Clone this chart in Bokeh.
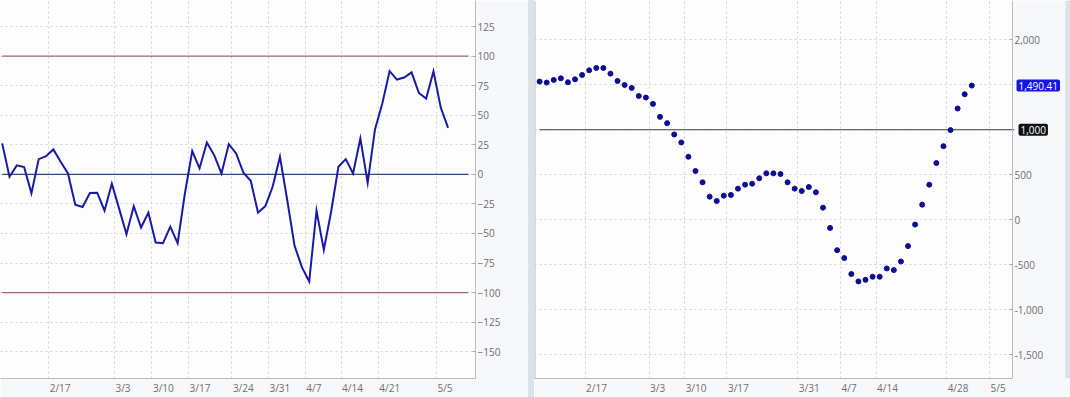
from bokeh.plotting import figure
from bokeh.models import FixedTicker, Range1d, Label, NumeralTickFormatter, Spacer, BoxAnnotation
from bokeh.layouts import row
from bokeh.embed import file_html
from bokeh.resources import INLINE

# ---------------- data ----------------
cci_values = [26.2, -2.0, 7.6, 6.2, -16.0, 12.9, 15.4, 21.1, 10.6, 0.8,
              -25.6, -27.6, -15.8, -15.5, -30.7, -7.9, -29.0, -50.6, -27.0, -45.0,
              -32.4, -57.7, -58.2, -44.2, -58.2, -16.0, 19.7, 5.1, 27.0, 16.3,
              0.8, 25.6, 17.7, 1.4, -5.4, -32.4, -26.8, -10.5, 14.9, -21.9,
              -60.5, -78.5, -90.6, -30.7, -63.9, -31.6, 6.4, 12.9, 0.8, 30.4,
              -7.1, 38.0, 60.0, 87.4, 80.2, 81.9, 86.3, 68.9, 64.1, 87.2,
              56.5, 39.3]
cci_levels = [100, 0, -100]
cci_level_colors = ["#a06868", "#2b4a86", "#a06868"]

osc_values = [1535, 1524, 1553, 1571, 1527, 1560, 1608, 1660, 1686, 1686,
              1623, 1542, 1497, 1464, 1375, 1358, 1287, 1143, 1073, 948,
              859, 700, 542, 416, 257, 209, 268, 276, 346, 390,
              401, 461, 516, 516, 508, 416, 346, 320, 364, 306,
              135, -90, -337, -425, -602, -684, -666, -632, -632, -540,
              -558, -463, -292, -53, 168, 390, 630, 818, 996, 1236,
              1394, 1490.41]
osc_level = 1000

left_tick_labels = ["2/17", "3/3", "3/10", "3/17", "3/24", "3/31", "4/7", "4/14", "4/21", "5/5"]
left_tick_pos = [6.36, 15.36, 20.49, 25.49, 31.42, 36.42, 41.46, 46.36, 51.45, 59.41]
right_tick_labels = ["2/17", "3/3", "3/10", "3/17", "3/31", "4/7", "4/14", "4/28", "5/5"]
right_tick_pos = [6.41, 15.45, 20.47, 26.44, 36.45, 42.48, 47.49, 57.45, 63.5]

left_y_ticks = [-150, -125, -100, -75, -50, -25, 0, 25, 50, 75, 100, 125, 150]
right_y_grid = [-1500, -1000, -500, 0, 500, 1000, 1500, 2000]
right_y_labels = [-1500, -1000, -500, 0, 500, 2000]

# ---------------- style / layout ----------------
FONT = "Open Sans"
AX = "#bcbcbc"
LBL = "#6f6f6f"
GRID = "#d2d2d2"
BORDER_BG = "#f7f8f9"
STRIP = "#dae3e8"
H = 397
BOTTOM = 18
FS = 10  # font px

n = len(cci_values)
xs = list(range(n))


def text_w(s):
    # approximate Open Sans advance widths (em) at FS px
    widths = {"/": 0.371, ",": 0.25, ".": 0.27}
    return sum(widths.get(ch, 0.572) for ch in s) * FS


def base_fig(width, xr, yr, border_right):
    p = figure(width=width, height=H, x_range=Range1d(*xr), y_range=Range1d(*yr),
               y_axis_location="right", output_backend="svg", toolbar_location=None,
               min_border_left=0, min_border_top=0, min_border_bottom=BOTTOM,
               min_border_right=border_right,
               background_fill_color="#fdfdfd", border_fill_color=BORDER_BG,
               outline_line_color=None)
    for ax in (p.xaxis, p.yaxis):
        ax.axis_line_color = AX
        ax.minor_tick_line_color = None
        ax.major_label_text_font = FONT
        ax.major_label_text_font_size = f"{FS}px"
        ax.major_label_text_color = LBL
    p.xaxis.major_tick_line_color = None
    p.xaxis.major_tick_in = 0
    p.xaxis.major_tick_out = 0
    p.xaxis.major_label_standoff = 2
    p.yaxis.major_tick_in = 3
    p.yaxis.major_tick_out = 0
    p.yaxis.major_tick_line_color = "#a8a8a8"
    p.yaxis.major_label_standoff = 2
    p.grid.grid_line_color = GRID
    p.grid.grid_line_dash = "2 3"
    return p


def date_axis(p, positions, labels, ppi):
    centers = [round(pos + (text_w(lab) / 2 + 1) / ppi, 3) for pos, lab in zip(positions, labels)]
    p.xaxis.ticker = FixedTicker(ticks=centers)
    p.xaxis.major_label_overrides = {c: lab for c, lab in zip(centers, labels)}
    p.xgrid.ticker = FixedTicker(ticks=positions)


# ---------------- left panel ----------------
L_W, L_R = 528, 53
L_X0, L_X1 = -0.23, 64.75
p1 = base_fig(L_W, (L_X0, L_X1), (-172.7, 147.1), L_R)
p1.yaxis.ticker = FixedTicker(ticks=left_y_ticks)
p1.ygrid.ticker = FixedTicker(ticks=left_y_ticks)
date_axis(p1, left_tick_pos, left_tick_labels, (L_W - L_R) / (L_X1 - L_X0))
left_level_end = n + 1.8
for lvl, col in zip(cci_levels, cci_level_colors):
    p1.segment(x0=[0], y0=[lvl], x1=[left_level_end], y1=[lvl],
               line_color=col, line_width=1.3)
p1.line(xs, cci_values, line_color="#1a1aa8", line_width=2, line_join="miter")

# ---------------- right panel ----------------
# frame spans the whole panel; the value axis is pinned inside it so that
# the price badges can sit over the label column
R_W = 536
R_PPI = 7.085
R_X0 = -0.72
R_AXIS_PX = 478
R_AXIS_X = R_X0 + R_AXIS_PX / R_PPI
R_X1 = R_X0 + R_W / R_PPI
p2 = base_fig(R_W, (R_X0, R_X1), (-1762, 2435), 0)
p2.yaxis.fixed_location = R_AXIS_X
p2.yaxis.ticker = FixedTicker(ticks=right_y_labels)
p2.yaxis.formatter = NumeralTickFormatter(format="0,0")
p2.ygrid.ticker = FixedTicker(ticks=right_y_grid)
p2.xaxis.bounds = (R_X0, R_AXIS_X)
date_axis(p2, right_tick_pos, right_tick_labels, R_PPI)

# label column background (covers the grid there) and the outer strip
p2.add_layout(BoxAnnotation(left=R_AXIS_X, fill_color=BORDER_BG, fill_alpha=1,
                            line_color=None, level="underlay"))
p2.add_layout(BoxAnnotation(left=R_X1 - 5 / R_PPI, fill_color=STRIP, fill_alpha=1,
                            line_color=None, level="underlay"))

right_level_end = n + 5.0
p2.segment(x0=[0], y0=[osc_level], x1=[right_level_end], y1=[osc_level],
           line_color="#3c3c3c", line_width=1.2)
p2.segment(x0=[R_X0], y0=[p2.y_range.start], x1=[R_X0],
           y1=[p2.y_range.end], line_color=AX, line_width=2)
p2.scatter(xs, osc_values, size=5, color="#0d0d93")

p2.add_layout(Label(x=R_AXIS_X, x_offset=4, y=osc_values[-1],
                    text=f"{osc_values[-1]:,.2f}", text_align="left", text_baseline="middle",
                    text_font=FONT, text_font_size=f"{FS}px", text_color="white",
                    background_fill_color="#1616e0", padding=2, border_radius=2))
p2.add_layout(Label(x=R_AXIS_X, x_offset=6, y=osc_level,
                    text=f"{osc_level:,}", text_align="left", text_baseline="middle",
                    text_font=FONT, text_font_size=f"{FS}px", text_color="white",
                    background_fill_color="#111111", padding=2, border_radius=2))

divider = Spacer(width=6, height=H, margin=0, styles={"background-color": STRIP})

layout = row(p1, divider, p2, spacing=0)

with open("out.html", "w") as f:
    f.write(file_html(layout, INLINE))
